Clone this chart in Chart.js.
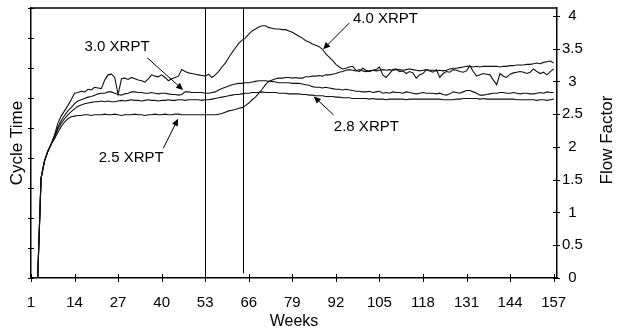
<!DOCTYPE html>
<html>
<head>
<meta charset="utf-8">
<script src="https://cdn.jsdelivr.net/npm/chart.js@4.4.1/dist/chart.umd.min.js"></script>
<style>
  html, body { margin: 0; padding: 0; background: #ffffff; }
  #wrap { width: 619px; height: 331px; }
</style>
</head>
<body>
<div id="wrap"><canvas id="flowChart" width="619" height="331"></canvas></div>
<script>
// Weeks 1..157 on the x axis
const weeks = Array.from({ length: 157 }, (_, i) => i + 1);
const weekTicks = [1, 14, 27, 40, 53, 66, 79, 92, 105, 118, 131, 144, 157];
const flowTicks = [0, 0.5, 1, 1.5, 2, 2.5, 3, 3.5, 4];
const cycleTicks = [0, 1, 2, 3, 4, 5, 6, 7, 8, 9];

// Flow factor per week for each release level
const xrpt25 = [
  0, 0, 0, 1.52, 1.78, 1.93, 2.04, 2.12, 2.22, 2.31,
  2.38, 2.43, 2.46, 2.47, 2.48, 2.48, 2.49, 2.49, 2.48, 2.49,
  2.49, 2.49, 2.50, 2.49, 2.49, 2.50, 2.49, 2.48, 2.49, 2.49,
  2.49, 2.50, 2.49, 2.49, 2.48, 2.49, 2.49, 2.50, 2.49, 2.49,
  2.50, 2.49, 2.49, 2.50, 2.50, 2.49, 2.49, 2.49, 2.49, 2.49,
  2.49, 2.49, 2.49, 2.49, 2.49, 2.49, 2.50, 2.51, 2.53, 2.55,
  2.56, 2.57, 2.59, 2.60, 2.63, 2.67, 2.72, 2.76, 2.82, 2.88,
  2.95, 3.00, 3.02, 3.04, 3.05, 3.05, 3.06, 3.06, 3.05, 3.06,
  3.05, 3.05, 3.07, 3.07, 3.08, 3.08, 3.09, 3.08, 3.10, 3.10,
  3.11, 3.12, 3.14, 3.15, 3.17, 3.18, 3.17, 3.16, 3.18, 3.16,
  3.15, 3.16, 3.17, 3.16, 3.17, 3.18, 3.17, 3.18, 3.17, 3.18,
  3.18, 3.17, 3.18, 3.19, 3.18, 3.17, 3.16, 3.17, 3.18, 3.17,
  3.17, 3.16, 3.17, 3.16, 3.17, 3.19, 3.20, 3.20, 3.21, 3.22,
  3.23, 3.23, 3.22, 3.23, 3.22, 3.23, 3.23, 3.23, 3.23, 3.23,
  3.22, 3.23, 3.23, 3.24, 3.24, 3.25, 3.25, 3.25, 3.26, 3.26,
  3.27, 3.28, 3.27, 3.29, 3.30, 3.31, 3.28
];
const xrpt28 = [
  0, 0, 0, 1.52, 1.78, 1.93, 2.04, 2.14, 2.27, 2.36,
  2.43, 2.49, 2.54, 2.58, 2.62, 2.64, 2.66, 2.67, 2.68, 2.69,
  2.69, 2.70, 2.69, 2.70, 2.69, 2.69, 2.70, 2.71, 2.70, 2.71,
  2.72, 2.71, 2.71, 2.70, 2.71, 2.72, 2.71, 2.71, 2.70, 2.71,
  2.71, 2.72, 2.71, 2.71, 2.72, 2.72, 2.71, 2.72, 2.72, 2.72,
  2.72, 2.71, 2.72, 2.72, 2.73, 2.74, 2.75, 2.76, 2.77, 2.78,
  2.79, 2.80, 2.80, 2.81, 2.82, 2.82, 2.83, 2.83, 2.83, 2.84,
  2.83, 2.83, 2.83, 2.83, 2.82, 2.82, 2.82, 2.81, 2.81, 2.81,
  2.81, 2.80, 2.80, 2.79, 2.79, 2.78, 2.78, 2.78, 2.77, 2.77,
  2.77, 2.76, 2.76, 2.75, 2.75, 2.75, 2.74, 2.74, 2.74, 2.74,
  2.74, 2.73, 2.74, 2.73, 2.73, 2.73, 2.72, 2.73, 2.73, 2.73,
  2.73, 2.73, 2.72, 2.73, 2.73, 2.73, 2.73, 2.73, 2.73, 2.73,
  2.73, 2.73, 2.73, 2.72, 2.72, 2.72, 2.72, 2.73, 2.73, 2.74,
  2.74, 2.74, 2.74, 2.74, 2.73, 2.74, 2.73, 2.73, 2.73, 2.73,
  2.73, 2.73, 2.73, 2.73, 2.73, 2.72, 2.72, 2.72, 2.72, 2.72,
  2.72, 2.71, 2.72, 2.72, 2.71, 2.72, 2.73
];
const xrpt30 = [
  0, 0, 0, 1.52, 1.78, 1.93, 2.04, 2.16, 2.30, 2.40,
  2.48, 2.55, 2.60, 2.66, 2.70, 2.72, 2.74, 2.76, 2.77, 2.79,
  2.81, 2.82, 2.82, 2.84, 2.84, 2.82, 2.80, 2.79, 2.81, 2.82,
  2.84, 2.84, 2.83, 2.83, 2.82, 2.82, 2.83, 2.82, 2.81, 2.82,
  2.82, 2.81, 2.80, 2.80, 2.79, 2.80, 2.84, 2.84, 2.83, 2.83,
  2.83, 2.83, 2.82, 2.82, 2.83, 2.84, 2.87, 2.89, 2.91, 2.93,
  2.95, 2.96, 2.97, 2.97, 2.98, 2.98, 2.99, 3.00, 3.01, 3.01,
  3.01, 3.00, 3.00, 2.99, 2.98, 2.98, 2.98, 2.98, 2.97, 2.97,
  2.97, 2.96, 2.95, 2.94, 2.92, 2.91, 2.91, 2.90, 2.91, 2.90,
  2.89, 2.88, 2.88, 2.87, 2.88, 2.87, 2.86, 2.85, 2.85, 2.84,
  2.84, 2.85, 2.83, 2.84, 2.85, 2.82, 2.83, 2.82, 2.84, 2.83,
  2.83, 2.82, 2.84, 2.83, 2.82, 2.81, 2.82, 2.83, 2.82, 2.82,
  2.82, 2.81, 2.82, 2.80, 2.79, 2.81, 2.84, 2.83, 2.82, 2.84,
  2.86, 2.86, 2.84, 2.82, 2.79, 2.79, 2.80, 2.81, 2.82, 2.82,
  2.83, 2.83, 2.82, 2.82, 2.83, 2.82, 2.81, 2.82, 2.82, 2.81,
  2.81, 2.82, 2.83, 2.82, 2.84, 2.83, 2.83
];
const xrpt40 = [
  0, 0, 0, 1.52, 1.78, 1.93, 2.04, 2.18, 2.36, 2.47,
  2.55, 2.63, 2.72, 2.82, 2.83, 2.85, 2.84, 2.88, 2.87, 2.91,
  2.90, 2.89, 3.02, 3.10, 3.11, 3.06, 2.80, 3.04, 3.05, 3.03,
  3.06, 3.04, 3.02, 3.01, 2.99, 3.04, 3.10, 3.08, 3.07, 3.10,
  3.06, 3.01, 3.04, 3.06, 3.08, 3.18, 3.15, 3.13, 3.12, 3.11,
  3.10, 3.09, 3.08, 3.11, 3.06, 3.10, 3.15, 3.22, 3.28, 3.36,
  3.44, 3.51, 3.58, 3.63, 3.66, 3.72, 3.77, 3.80, 3.83, 3.85,
  3.85, 3.82, 3.81, 3.80, 3.80, 3.79, 3.79, 3.77, 3.75, 3.72,
  3.69, 3.66, 3.62, 3.60, 3.57, 3.55, 3.53, 3.49, 3.42, 3.37,
  3.32, 3.26, 3.22, 3.19, 3.20, 3.22, 3.23, 3.17, 3.15, 3.20,
  3.17, 3.15, 3.17, 3.18, 3.22, 3.10, 3.06, 3.12, 3.18, 3.19,
  3.15, 3.16, 3.12, 3.15, 3.13, 3.05, 3.10, 3.12, 3.18, 3.16,
  3.14, 3.18, 3.06, 3.12, 3.15, 3.14, 3.18, 3.17, 3.15, 3.14,
  3.16, 3.24, 3.15, 3.08, 3.10, 3.12, 3.11, 3.10, 3.02, 2.95,
  3.12, 3.08, 3.06, 3.11, 3.13, 3.14, 3.15, 3.14, 3.12, 3.14,
  3.19, 3.15, 3.12, 3.14, 3.10, 3.15, 3.19
];

const seriesNames = ['2.5 XRPT', '2.8 XRPT', '3.0 XRPT', '4.0 XRPT'];
const seriesValues = [xrpt25, xrpt28, xrpt30, xrpt40];

// Callout labels: text anchor, arrow tail and arrow tip, in (week, flow) units
const callouts = [
  { text: '2.5 XRPT', at: [30.9, 1.83], from: [40.5, 1.98], to: [44.9, 2.43] },
  { text: '2.8 XRPT', at: [101.1, 2.30], from: [91.3, 2.49], to: [85.4, 2.77] },
  { text: '3.0 XRPT', at: [26.7, 3.53], from: [35.7, 3.36], to: [46.4, 2.87] },
  { text: '4.0 XRPT', at: [106.8, 3.96], from: [96.0, 3.89], to: [88.2, 3.49] }
];

// Vertical marker lines (week, lowest flow value reached)
const markers = [[53, 0], [64.4, 0.07]];

const FONT = 'Liberation Sans, Arial, sans-serif';
Chart.defaults.font.family = FONT;
Chart.defaults.font.size = 15;
Chart.defaults.color = '#000000';

function drawArrow(ctx, x1, y1, x2, y2) {
  const ang = Math.atan2(y2 - y1, x2 - x1);
  const len = 7, half = 3.2;
  ctx.beginPath();
  ctx.moveTo(x1, y1);
  ctx.lineTo(x2 - Math.cos(ang) * len * 0.8, y2 - Math.sin(ang) * len * 0.8);
  ctx.stroke();
  ctx.beginPath();
  ctx.moveTo(x2, y2);
  ctx.lineTo(x2 - Math.cos(ang) * len - Math.sin(ang) * half, y2 - Math.sin(ang) * len + Math.cos(ang) * half);
  ctx.lineTo(x2 - Math.cos(ang) * len + Math.sin(ang) * half, y2 - Math.sin(ang) * len - Math.cos(ang) * half);
  ctx.closePath();
  ctx.fill();
}

const overlay = {
  id: 'overlay',
  afterDatasetsDraw(chart) {
    const { ctx, chartArea: area, scales } = chart;
    const x = scales.x, flow = scales.flow, cycle = scales.cycle;
    ctx.save();
    ctx.strokeStyle = '#000';
    ctx.fillStyle = '#000';

    // top edge of the frame
    ctx.lineWidth = 1.5;
    ctx.beginPath();
    ctx.moveTo(area.left, area.top);
    ctx.lineTo(area.right, area.top);
    ctx.stroke();

    // tick marks crossing the axes
    ctx.lineWidth = 1;
    ctx.beginPath();
    x.ticks.forEach(t => {
      const px = Math.round(x.getPixelForValue(t.value)) + 0.5;
      ctx.moveTo(px, area.bottom - 4);
      ctx.lineTo(px, area.bottom + 4);
    });
    cycle.ticks.forEach(t => {
      const py = Math.round(cycle.getPixelForValue(t.value)) + 0.5;
      ctx.moveTo(area.left - 3, py);
      ctx.lineTo(area.left + 3, py);
    });
    flow.ticks.forEach(t => {
      const py = Math.round(flow.getPixelForValue(t.value)) + 0.5;
      ctx.moveTo(area.right - 4, py);
      ctx.lineTo(area.right + 3, py);
    });
    ctx.stroke();

    // vertical markers
    ctx.beginPath();
    markers.forEach(([wk, low]) => {
      const px = Math.round(x.getPixelForValue(wk)) + 0.5;
      ctx.moveTo(px, area.top);
      ctx.lineTo(px, flow.getPixelForValue(low));
    });
    ctx.stroke();

    // callouts
    ctx.font = '15px ' + FONT;
    ctx.textAlign = 'center';
    ctx.textBaseline = 'middle';
    callouts.forEach(c => {
      ctx.fillText(c.text, x.getPixelForValue(c.at[0]), flow.getPixelForValue(c.at[1]));
      drawArrow(ctx,
        x.getPixelForValue(c.from[0]), flow.getPixelForValue(c.from[1]),
        x.getPixelForValue(c.to[0]), flow.getPixelForValue(c.to[1]));
    });

    // right axis title, reading upward
    ctx.font = '17px ' + FONT;
    ctx.translate(607, 140);
    ctx.rotate(-Math.PI / 2);
    ctx.fillText('Flow Factor', 0, 0);
    ctx.restore();
  }
};

const axisBorder = { display: true, color: '#000000', width: 1.5 };
const noGrid = { display: false, drawTicks: false };

new Chart(document.getElementById('flowChart'), {
  type: 'line',
  data: {
    labels: weeks,
    datasets: seriesNames.map((name, i) => ({
      label: name,
      data: seriesValues[i].map((v, j) => ({ x: weeks[j], y: v })),
      yAxisID: 'flow',
      borderColor: '#111111',
      borderWidth: 1.1,
      pointRadius: 0,
      tension: 0,
      fill: false
    }))
  },
  options: {
    responsive: false,
    animation: false,
    layout: { padding: { top: 8, left: 0, right: 0, bottom: 0 } },
    plugins: { legend: { display: false }, tooltip: { enabled: false } },
    scales: {
      x: {
        type: 'linear',
        min: 1,
        max: 158,
        grid: noGrid,
        border: axisBorder,
        afterBuildTicks: s => { s.ticks = weekTicks.map(v => ({ value: v })); },
        afterFit: s => { s.height = 53; s.paddingLeft = 0; s.paddingRight = 0; },
        ticks: { padding: 16, maxRotation: 0, autoSkip: false },
        title: { display: true, text: 'Weeks', font: { size: 16 }, padding: 0 }
      },
      cycle: {
        position: 'left',
        min: 0,
        max: 9,
        grid: noGrid,
        border: axisBorder,
        afterBuildTicks: s => { s.ticks = cycleTicks.map(v => ({ value: v })); },
        afterFit: s => { s.width = 31; s.paddingTop = 0; s.paddingBottom = 0; },
        ticks: { display: false },
        title: { display: true, text: 'Cycle Time', font: { size: 17 }, padding: { top: 7, bottom: 0 } }
      },
      flow: {
        position: 'right',
        min: 0,
        max: 4.12,
        grid: noGrid,
        border: axisBorder,
        afterBuildTicks: s => { s.ticks = flowTicks.map(v => ({ value: v })); },
        afterFit: s => { s.width = 62; s.paddingTop = 0; s.paddingBottom = 0; },
        ticks: { padding: 5, crossAlign: 'center', callback: v => String(v) }
      }
    }
  },
  plugins: [overlay]
});
</script>
</body>
</html>
